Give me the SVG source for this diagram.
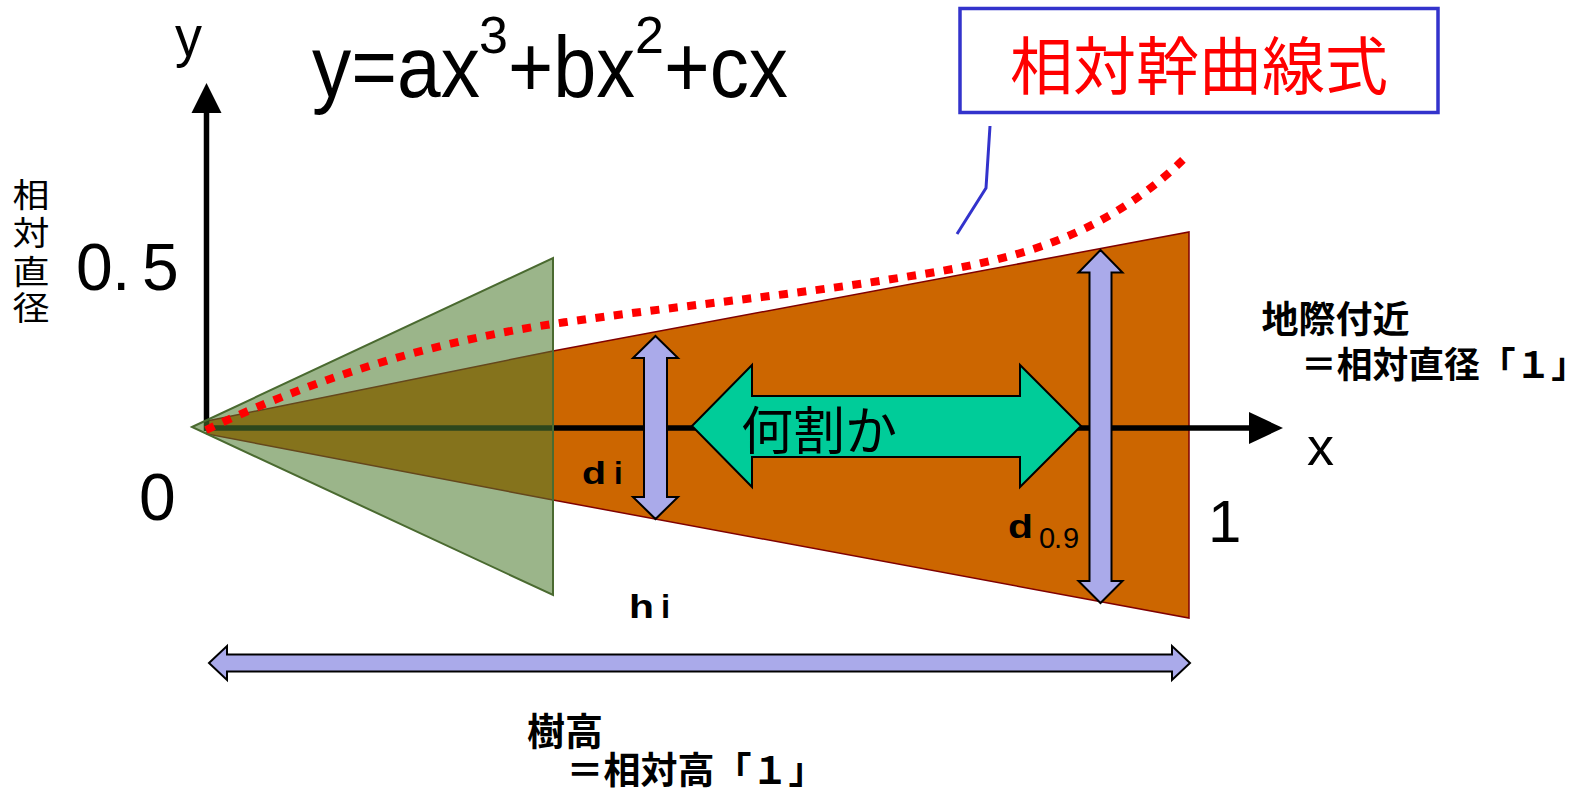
<svg xmlns="http://www.w3.org/2000/svg" width="1588" height="795" viewBox="0 0 1588 795">
<style>
.lat{font-family:"Liberation Sans",Arial,sans-serif;fill:#000}
.jp{font-family:"Noto Sans CJK JP","Noto Sans CJK SC",sans-serif;fill:#000}
.b{font-weight:bold}
.lil{fill:#aaaaea;stroke:#000;stroke-width:2;stroke-linejoin:miter}
.ax{stroke:#000;stroke-width:5.5;fill:none}
</style>
<rect width="1588" height="795" fill="#fff"/>
<g id="stem">
<polygon points="207,421 553,351 1189,232 1189,618 553,500 207,434" fill="#cc6600" stroke="#800000" stroke-width="1.5"/>
</g>
<g id="connectors">
<line class="ax" x1="206" y1="428" x2="1252" y2="428"/>
<polygon points="1249,412 1283,428 1249,444" fill="#000"/>
<line class="ax" x1="206.5" y1="431" x2="206.5" y2="110"/>
<polygon points="191.5,113 206.5,83 221.5,113" fill="#000"/>
</g>
<g id="crown">
<polygon points="192,427 553,258 553,595" fill="rgb(80,125,50)" fill-opacity="0.57" stroke="#4a6a30" stroke-width="2"/>
</g>
<g id="curve">
<path d="M206,430 C322,375 438,341 553,324 C670,306.5 788,296 905,277 C1000,262 1099,244 1189,154" fill="none" stroke="#ff0000" stroke-width="8" stroke-dasharray="9 9.5"/>
</g>
<g id="ratio-arrow">
<polygon points="692,426 752,365 752,396 1020,396 1020,365 1081,426 1020,487 1020,457 752,457 752,487" fill="#00cc99" stroke="#000" stroke-width="2"/>
<text class="jp" x="741" y="450" font-size="52">何割か</text>
</g>
<g id="di-arrow">
<polygon class="lil" points="655.5,336 678,358 667,358 667,497 678,497 655.5,519 633,497 644,497 644,358 633,358"/>
<text class="lat b" x="582" y="484" font-size="31" textLength="24" lengthAdjust="spacingAndGlyphs">d</text>
<text class="lat b" x="614" y="484" font-size="31">i</text>
</g>
<g id="d09-arrow">
<polygon class="lil" points="1100.5,250 1122.5,272.5 1111.5,272.5 1111.5,581 1122.5,581 1100.5,603 1078.5,581 1089.5,581 1089.5,272.5 1078.5,272.5"/>
<text class="lat b" x="1008" y="538" font-size="34" textLength="25" lengthAdjust="spacingAndGlyphs">d</text>
<text class="lat" x="1039 1054 1063" y="548" font-size="29">0.9</text>
</g>
<g id="height-arrow">
<polygon class="lil" points="209,663 227,646 227,654.5 1172,654.5 1172,646 1190,663 1172,680 1172,671.5 227,671.5 227,680"/>
</g>
<g id="hi-label">
<text class="lat b" x="629" y="618" font-size="33" textLength="25" lengthAdjust="spacingAndGlyphs">h</text>
<text class="lat b" x="661" y="618" font-size="33">i</text>
</g>
<g id="callout">
<rect x="960" y="8.5" width="478" height="104" fill="#fff" stroke="#3333cc" stroke-width="3.5"/>
<text class="jp" x="1199" y="89" font-size="63" text-anchor="middle" style="fill:#ff0000">相対幹曲線式</text>
<polyline points="990,126 986,188 957,234" fill="none" stroke="#3333cc" stroke-width="3"/>
</g>
<g id="equation">
<text class="lat" x="312" y="97" font-size="88" textLength="168" lengthAdjust="spacingAndGlyphs">y=ax</text>
<text class="lat" x="479" y="53" font-size="52">3</text>
<text class="lat" x="508" y="97" font-size="88" textLength="127" lengthAdjust="spacingAndGlyphs">+bx</text>
<text class="lat" x="635" y="53" font-size="52">2</text>
<text class="lat" x="664" y="97" font-size="88" textLength="124" lengthAdjust="spacingAndGlyphs">+cx</text>
</g>
<g id="axis-labels">
<text class="lat" x="175" y="56" font-size="58" textLength="27" lengthAdjust="spacingAndGlyphs">y</text>
<text class="lat" x="1307" y="465" font-size="54">x</text>
<text class="lat" x="76 112 142" y="290" font-size="66">0.5</text>
<text class="lat" x="139" y="520" font-size="66">0</text>
<text class="lat" x="1208" y="542" font-size="60">1</text>
<g transform="translate(31,0) scale(1.12,1)">
<text class="jp" text-anchor="middle" font-size="33"><tspan x="0" y="207.5">相</tspan><tspan x="0" y="245.5">対</tspan><tspan x="0" y="284">直</tspan><tspan x="0" y="320.5">径</tspan></text>
</g>
</g>
<g id="base-label">
<text class="jp b" x="1261.5" y="333" font-size="37">地際付近</text>
<text class="jp b" x="1301" y="378" font-size="36" textLength="286" lengthAdjust="spacingAndGlyphs">＝相対直径「１」</text>
</g>
<g id="height-label">
<text class="jp b" x="527" y="745" font-size="38">樹高</text>
<text class="jp b" x="566.5" y="784" font-size="37">＝相対高「１」</text>
</g>
</svg>
